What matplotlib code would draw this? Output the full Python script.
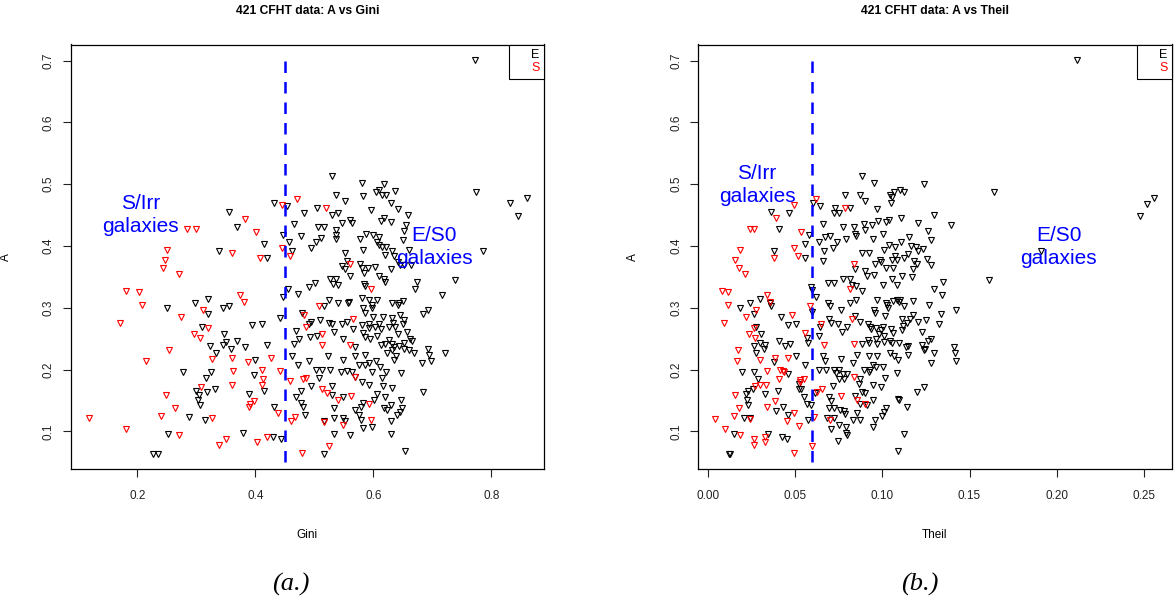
import matplotlib
matplotlib.use("Agg")
import matplotlib.pyplot as plt
from matplotlib.lines import Line2D
from matplotlib.ticker import FormatStrFormatter

plt.rcParams['font.family'] = ['Liberation Sans', 'DejaVu Sans']

# ---- panel (a): A vs Gini ----
gini_e = [0.355, 0.369, 0.339, 0.250, 0.298, 0.320, 0.319, 0.345, 0.355, 0.395, 0.309, 0.347, 0.323, 0.345,
          0.350, 0.358, 0.369, 0.383, 0.334, 0.400, 0.278, 0.324, 0.317, 0.397, 0.299, 0.305, 0.318, 0.331,
          0.302, 0.306, 0.389, 0.287, 0.314, 0.252, 0.379, 0.226, 0.235,
          0.530, 0.580, 0.618, 0.432, 0.453, 0.537, 0.552, 0.582, 0.604, 0.609, 0.614, 0.622, 0.505, 0.483,
          0.530, 0.540, 0.596, 0.466, 0.506, 0.516, 0.546, 0.561, 0.563, 0.613, 0.537, 0.537, 0.536, 0.446,
          0.457, 0.477, 0.503, 0.511, 0.494, 0.462, 0.420, 0.415, 0.577, 0.587, 0.599, 0.609, 0.606, 0.609,
          0.614, 0.622, 0.582, 0.552, 0.555, 0.547, 0.552, 0.560, 0.577, 0.581, 0.591, 0.603, 0.584, 0.610,
          0.618, 0.620, 0.634, 0.527, 0.537, 0.531, 0.540, 0.501, 0.490, 0.456, 0.472, 0.447, 0.584, 0.586,
          0.620, 0.525, 0.540, 0.557, 0.559, 0.517, 0.581, 0.592, 0.606, 0.582, 0.585, 0.597, 0.598, 0.479,
          0.441, 0.411, 0.510, 0.491, 0.495, 0.468, 0.524, 0.529, 0.534, 0.547, 0.555, 0.565, 0.581, 0.582,
          0.592, 0.600, 0.617, 0.593, 0.602, 0.610, 0.613, 0.627, 0.633, 0.504, 0.492, 0.474, 0.465, 0.420,
          0.549, 0.569, 0.585, 0.595, 0.606, 0.613, 0.620, 0.626, 0.623, 0.632, 0.585, 0.568, 0.548, 0.523,
          0.490, 0.462, 0.472, 0.415, 0.503, 0.512, 0.507, 0.527, 0.545, 0.556, 0.564, 0.569, 0.575, 0.585,
          0.593, 0.597, 0.604, 0.611, 0.614, 0.621, 0.581, 0.592, 0.494, 0.477, 0.529, 0.529, 0.548, 0.582,
          0.579, 0.601, 0.606, 0.616, 0.620, 0.618, 0.623, 0.630, 0.469, 0.478, 0.481, 0.484, 0.431, 0.516,
          0.533, 0.534, 0.549, 0.551, 0.568, 0.576, 0.579, 0.582, 0.598, 0.560, 0.533, 0.517, 0.444, 0.429,
          0.637, 0.774, 0.630, 0.641, 0.658, 0.630, 0.656, 0.651, 0.650, 0.660, 0.631, 0.832, 0.860, 0.845,
          0.785, 0.642, 0.645, 0.652, 0.664, 0.630, 0.674, 0.670, 0.739, 0.716, 0.631, 0.641, 0.643, 0.650,
          0.684, 0.693, 0.631, 0.645, 0.651, 0.650, 0.637, 0.641, 0.657, 0.651, 0.662, 0.665, 0.631, 0.635,
          0.643, 0.652, 0.661, 0.669, 0.639, 0.635, 0.693, 0.694, 0.698, 0.683, 0.721, 0.646, 0.631, 0.684,
          0.647, 0.648, 0.645, 0.640, 0.630, 0.630, 0.653, 0.772, 0.618]
a_gini_e = [0.455, 0.430, 0.391, 0.299, 0.308, 0.314, 0.290, 0.299, 0.302, 0.272, 0.269, 0.257, 0.238, 0.239,
            0.244, 0.234, 0.246, 0.237, 0.226, 0.215, 0.196, 0.196, 0.186, 0.191, 0.165, 0.159, 0.164, 0.168,
            0.150, 0.143, 0.161, 0.123, 0.119, 0.096, 0.097, 0.064, 0.064,
            0.513, 0.502, 0.500, 0.469, 0.465, 0.483, 0.473, 0.481, 0.487, 0.490, 0.483, 0.483, 0.462, 0.454,
            0.450, 0.454, 0.458, 0.435, 0.430, 0.430, 0.437, 0.442, 0.437, 0.440, 0.425, 0.418, 0.412, 0.417,
            0.406, 0.416, 0.407, 0.413, 0.397, 0.392, 0.381, 0.403, 0.412, 0.420, 0.418, 0.415, 0.407, 0.401,
            0.398, 0.398, 0.393, 0.389, 0.376, 0.367, 0.363, 0.352, 0.371, 0.364, 0.364, 0.366, 0.356, 0.352,
            0.347, 0.385, 0.384, 0.346, 0.346, 0.339, 0.337, 0.340, 0.333, 0.331, 0.322, 0.318, 0.339, 0.335,
            0.341, 0.312, 0.308, 0.308, 0.310, 0.303, 0.315, 0.312, 0.312, 0.299, 0.292, 0.304, 0.300, 0.291,
            0.284, 0.273, 0.280, 0.273, 0.277, 0.263, 0.276, 0.273, 0.260, 0.273, 0.277, 0.266, 0.272, 0.259,
            0.268, 0.285, 0.285, 0.274, 0.269, 0.273, 0.266, 0.269, 0.275, 0.254, 0.252, 0.249, 0.242, 0.240,
            0.250, 0.237, 0.253, 0.250, 0.255, 0.240, 0.242, 0.247, 0.227, 0.231, 0.223, 0.222, 0.216, 0.222,
            0.214, 0.222, 0.208, 0.165, 0.200, 0.200, 0.187, 0.200, 0.196, 0.197, 0.196, 0.188, 0.208, 0.207,
            0.210, 0.196, 0.213, 0.204, 0.187, 0.196, 0.180, 0.175, 0.173, 0.166, 0.173, 0.158, 0.155, 0.146,
            0.139, 0.150, 0.160, 0.173, 0.156, 0.138, 0.134, 0.142, 0.155, 0.146, 0.139, 0.126, 0.140, 0.117,
            0.122, 0.138, 0.122, 0.117, 0.134, 0.126, 0.118, 0.106, 0.107, 0.094, 0.096, 0.064, 0.087, 0.091,
            0.489, 0.487, 0.469, 0.459, 0.450, 0.438, 0.434, 0.424, 0.410, 0.394, 0.391, 0.469, 0.478, 0.448,
            0.392, 0.374, 0.369, 0.369, 0.369, 0.362, 0.342, 0.331, 0.345, 0.321, 0.308, 0.304, 0.308, 0.311,
            0.290, 0.297, 0.283, 0.288, 0.280, 0.274, 0.269, 0.257, 0.260, 0.243, 0.250, 0.246, 0.242, 0.236,
            0.238, 0.234, 0.231, 0.227, 0.222, 0.215, 0.234, 0.224, 0.214, 0.210, 0.226, 0.195, 0.170, 0.164,
            0.151, 0.137, 0.131, 0.126, 0.117, 0.096, 0.068, 0.701, 0.446]
gini_s = [0.382, 0.401, 0.284, 0.299, 0.251, 0.360, 0.246, 0.243, 0.270, 0.408, 0.180, 0.203, 0.207, 0.374,
          0.380, 0.311, 0.274, 0.171, 0.319, 0.296, 0.306, 0.254, 0.327, 0.360, 0.388, 0.214, 0.362, 0.307,
          0.361, 0.249, 0.398, 0.391, 0.389, 0.263, 0.118, 0.240, 0.326, 0.180, 0.270, 0.351, 0.339, 0.403,
          0.471, 0.445, 0.519, 0.445, 0.459, 0.560, 0.596, 0.508, 0.483, 0.486, 0.565, 0.513, 0.512, 0.560,
          0.427, 0.411, 0.441, 0.413, 0.411, 0.458, 0.481, 0.485, 0.568, 0.513, 0.521, 0.540, 0.562, 0.592,
          0.439, 0.467, 0.460, 0.517, 0.549, 0.596, 0.524, 0.479, 0.419]
a_gini_s = [0.444, 0.422, 0.428, 0.427, 0.393, 0.389, 0.377, 0.365, 0.354, 0.380, 0.327, 0.325, 0.305, 0.321,
            0.309, 0.296, 0.285, 0.276, 0.267, 0.257, 0.251, 0.232, 0.217, 0.218, 0.212, 0.213, 0.197, 0.172,
            0.175, 0.159, 0.149, 0.144, 0.139, 0.137, 0.122, 0.124, 0.121, 0.104, 0.094, 0.087, 0.078, 0.082,
            0.476, 0.466, 0.461, 0.396, 0.384, 0.370, 0.331, 0.302, 0.288, 0.269, 0.281, 0.258, 0.239, 0.240,
            0.219, 0.200, 0.197, 0.184, 0.175, 0.182, 0.184, 0.187, 0.188, 0.169, 0.162, 0.150, 0.157, 0.144,
            0.129, 0.123, 0.117, 0.115, 0.110, 0.119, 0.077, 0.065, 0.091]

# ---- panel (b): A vs Theil ----
theil_e = [0.0363, 0.0464, 0.0410, 0.0382, 0.0302, 0.0241, 0.0355, 0.0363, 0.0183, 0.0263, 0.0422, 0.0460,
           0.0504, 0.0275, 0.0307, 0.0410, 0.0473, 0.0445, 0.0267, 0.0298, 0.0330, 0.0321, 0.0279, 0.0506,
           0.0380, 0.0197, 0.0263, 0.0458, 0.0286, 0.0260, 0.0229, 0.0221, 0.0225, 0.0229, 0.0330, 0.0401,
           0.0525, 0.0525, 0.0431, 0.0393, 0.0460, 0.0206, 0.0244, 0.0153, 0.0346, 0.0428, 0.0454, 0.0120,
           0.0130,
           0.0884, 0.0955, 0.0788, 0.0871, 0.0903, 0.1046, 0.1065, 0.1056, 0.1100, 0.0601, 0.0641, 0.0731,
           0.0725, 0.0750, 0.0817, 0.0970, 0.1050, 0.0661, 0.0775, 0.0836, 0.0846, 0.0852, 0.0894, 0.0903,
           0.0941, 0.0974, 0.1004, 0.1023, 0.1037, 0.0578, 0.0674, 0.0702, 0.0740, 0.0794, 0.0638, 0.0555,
           0.0718, 0.0668, 0.0884, 0.0922, 0.0947, 0.1012, 0.1037, 0.1071, 0.0555, 0.0661, 0.0846, 0.0903,
           0.0960, 0.0985, 0.0993, 0.1056, 0.1075, 0.1084, 0.1023, 0.1062, 0.0955, 0.1004, 0.1056, 0.0913,
           0.0687, 0.0725, 0.0775, 0.0817, 0.0827, 0.0851, 0.0884, 0.1084, 0.0592, 0.0598, 0.0622, 0.0598,
           0.0687, 0.0699, 0.0763, 0.0817, 0.0852, 0.0970, 0.1023, 0.1027, 0.1031, 0.1062, 0.1084, 0.1103,
           0.0955, 0.0960, 0.1018, 0.0842, 0.0693, 0.0708, 0.0744, 0.0645, 0.0798, 0.0769, 0.0871, 0.0917,
           0.0928, 0.0936, 0.0966, 0.0980, 0.0993, 0.1004, 0.1012, 0.1050, 0.1060, 0.0569, 0.0575, 0.0636,
           0.0884, 0.0917, 0.0922, 0.0966, 0.0970, 0.1012, 0.1043, 0.1056, 0.1094, 0.0855, 0.0922, 0.0970,
           0.1043, 0.1066, 0.0661, 0.0674, 0.0559, 0.0765, 0.0833, 0.0636, 0.0680, 0.0725, 0.0737, 0.0750,
           0.0775, 0.0798, 0.0779, 0.0750, 0.0871, 0.0897, 0.0922, 0.0932, 0.0947, 0.0966, 0.1002, 0.1018,
           0.0947, 0.0995, 0.0865, 0.0718, 0.0535, 0.0613, 0.0693, 0.0706, 0.0846, 0.0884, 0.0903, 0.0871,
           0.0947, 0.1094, 0.0554, 0.0569, 0.0592, 0.0693, 0.0721, 0.0760, 0.0779, 0.0788, 0.0856, 0.0913,
           0.1023, 0.1012, 0.0998, 0.0575, 0.0683, 0.0721, 0.0832, 0.0874, 0.0957, 0.0947, 0.0754, 0.0706,
           0.0794, 0.0794, 0.0798, 0.0745, 0.1090,
           0.2113, 0.1638, 0.1239, 0.2558, 0.2518, 0.2476, 0.1907, 0.1613, 0.1126, 0.1107, 0.1296, 0.1207,
           0.1394, 0.1262, 0.1279, 0.1153, 0.1105, 0.1165, 0.1192, 0.1207, 0.1235, 0.1126, 0.1149, 0.1255,
           0.1279, 0.1182, 0.1199, 0.1178, 0.1111, 0.1172, 0.1346, 0.1298, 0.1340, 0.1098, 0.1126, 0.1178,
           0.1270, 0.1423, 0.1336, 0.1327, 0.1115, 0.1140, 0.1159, 0.1178, 0.1207, 0.1249, 0.1117, 0.1115,
           0.1230, 0.1260, 0.1279, 0.1136, 0.1149, 0.1230, 0.1245, 0.1241, 0.1146, 0.1298, 0.1411, 0.1417,
           0.1423, 0.1092, 0.1279, 0.1083, 0.1201, 0.1239, 0.1092, 0.1144, 0.1127]
a_theil_e = [0.455, 0.453, 0.428, 0.391, 0.314, 0.308, 0.308, 0.302, 0.300, 0.290, 0.285, 0.272,
             0.273, 0.269, 0.257, 0.246, 0.241, 0.238, 0.238, 0.243, 0.239, 0.233, 0.226, 0.222,
             0.212, 0.196, 0.196, 0.192, 0.185, 0.168, 0.166, 0.160, 0.150, 0.142, 0.161, 0.165,
             0.177, 0.168, 0.140, 0.133, 0.126, 0.122, 0.121, 0.096, 0.096, 0.091, 0.088, 0.064,
             0.064,
             0.513, 0.502, 0.482, 0.482, 0.473, 0.482, 0.488, 0.480, 0.491, 0.469, 0.465, 0.461,
             0.453, 0.454, 0.461, 0.459, 0.469, 0.435, 0.430, 0.430, 0.419, 0.416, 0.435, 0.426,
             0.434, 0.441, 0.420, 0.439, 0.442, 0.418, 0.414, 0.416, 0.407, 0.412, 0.407, 0.403,
             0.396, 0.392, 0.389, 0.389, 0.412, 0.393, 0.401, 0.398, 0.381, 0.376, 0.363, 0.359,
             0.371, 0.377, 0.374, 0.378, 0.383, 0.377, 0.365, 0.364, 0.353, 0.337, 0.347, 0.351,
             0.340, 0.340, 0.346, 0.346, 0.337, 0.335, 0.327, 0.337, 0.333, 0.329, 0.318, 0.293,
             0.308, 0.303, 0.297, 0.308, 0.312, 0.313, 0.308, 0.304, 0.300, 0.311, 0.313, 0.313,
             0.297, 0.292, 0.286, 0.287, 0.281, 0.276, 0.274, 0.269, 0.269, 0.261, 0.277, 0.273,
             0.269, 0.265, 0.268, 0.257, 0.264, 0.269, 0.254, 0.266, 0.259, 0.251, 0.243, 0.255,
             0.242, 0.247, 0.243, 0.250, 0.242, 0.245, 0.246, 0.243, 0.243, 0.223, 0.222, 0.222,
             0.226, 0.222, 0.222, 0.214, 0.207, 0.217, 0.210, 0.200, 0.200, 0.199, 0.195, 0.199,
             0.192, 0.193, 0.185, 0.185, 0.185, 0.199, 0.196, 0.199, 0.207, 0.204, 0.204, 0.187,
             0.175, 0.172, 0.176, 0.173, 0.168, 0.162, 0.156, 0.149, 0.157, 0.163, 0.162, 0.145,
             0.150, 0.151, 0.156, 0.145, 0.142, 0.138, 0.138, 0.135, 0.133, 0.128, 0.130, 0.142,
             0.137, 0.131, 0.124, 0.119, 0.121, 0.121, 0.118, 0.118, 0.118, 0.107, 0.111, 0.104,
             0.107, 0.097, 0.094, 0.084, 0.068,
             0.701, 0.487, 0.500, 0.478, 0.468, 0.448, 0.392, 0.345, 0.487, 0.446, 0.450, 0.437,
             0.434, 0.424, 0.410, 0.414, 0.406, 0.400, 0.399, 0.391, 0.395, 0.380, 0.387, 0.379,
             0.369, 0.376, 0.371, 0.363, 0.352, 0.349, 0.342, 0.331, 0.321, 0.310, 0.303, 0.311,
             0.305, 0.297, 0.290, 0.274, 0.281, 0.276, 0.282, 0.288, 0.277, 0.280, 0.270, 0.264,
             0.261, 0.246, 0.250, 0.236, 0.238, 0.239, 0.234, 0.231, 0.223, 0.226, 0.236, 0.226,
             0.214, 0.215, 0.210, 0.195, 0.164, 0.171, 0.152, 0.139, 0.096]
theil_s = [0.0493, 0.0391, 0.0244, 0.0267, 0.0535, 0.0183, 0.0155, 0.0382, 0.0493, 0.0515, 0.0181, 0.0216,
           0.0082, 0.0116, 0.0340, 0.0116, 0.0359, 0.0279, 0.0221, 0.0483, 0.0095, 0.0263, 0.0239, 0.0273,
           0.0174, 0.0460, 0.0168, 0.0302, 0.0384, 0.0340, 0.0416, 0.0430, 0.0439, 0.0410, 0.0531, 0.0273,
           0.0298, 0.0336, 0.0158, 0.0388, 0.0342, 0.0181, 0.0496, 0.0454, 0.0149, 0.0241, 0.0044, 0.0101,
           0.0187, 0.0330, 0.0326, 0.0267, 0.0263, 0.0521, 0.0493,
           0.0622, 0.0788, 0.0840, 0.0813, 0.0584, 0.0827, 0.0649, 0.0559, 0.0664, 0.0836, 0.0840, 0.0550,
           0.0531, 0.0626, 0.0655, 0.0766, 0.0856, 0.0899, 0.0607, 0.0699, 0.0598]
a_theil_s = [0.466, 0.445, 0.428, 0.427, 0.423, 0.393, 0.377, 0.380, 0.396, 0.384, 0.364, 0.354,
             0.327, 0.325, 0.321, 0.305, 0.309, 0.296, 0.285, 0.288, 0.276, 0.267, 0.257, 0.251,
             0.231, 0.219, 0.213, 0.216, 0.218, 0.197, 0.200, 0.197, 0.196, 0.184, 0.183, 0.173,
             0.175, 0.175, 0.158, 0.149, 0.139, 0.137, 0.129, 0.117, 0.124, 0.120, 0.120, 0.104,
             0.094, 0.091, 0.083, 0.087, 0.078, 0.108, 0.065,
             0.476, 0.461, 0.370, 0.331, 0.303, 0.281, 0.274, 0.259, 0.240, 0.242, 0.188, 0.185,
             0.180, 0.164, 0.168, 0.157, 0.151, 0.145, 0.123, 0.119, 0.077]

W, H = 1176, 604
fig = plt.figure(figsize=(W / 100, H / 100), dpi=100)
ax1 = fig.add_axes([70.7 / W, 1 - 469 / H, 473.3 / W, 424.5 / H])
ax2 = fig.add_axes([698 / W, 1 - 469 / H, 474 / W, 424.5 / H])


def panel(ax, xe, ye, xs, ys, cut, xlim, xticks, fmt, xlabel, title, pos1, pos2):
    ax.plot(xe, ye, 'v', ms=4, mfc='none', mec='black', mew=0.8, ls='none')
    ax.plot(xs, ys, 'v', ms=4, mfc='none', mec='red', mew=0.8, ls='none')
    ax.plot([cut, cut], [0.05, 0.7], color='blue', lw=1.8, ls=(0, (4.6, 3.6)))
    ax.text(pos1[0], pos1[1], 'S/Irr\ngalaxies', color='blue', fontsize=15,
            ha='center', va='center', linespacing=1.25)
    ax.text(pos2[0], pos2[1], 'E/S0\ngalaxies', color='blue', fontsize=15,
            ha='center', va='center', linespacing=1.25)
    ax.set_xlim(*xlim)
    ax.set_ylim(0.039, 0.726)
    ax.set_xticks(xticks)
    ax.set_yticks([0.1, 0.2, 0.3, 0.4, 0.5, 0.6, 0.7])
    ax.xaxis.set_major_formatter(FormatStrFormatter(fmt))
    ax.tick_params(direction='out', length=5.5, width=0.8, labelsize=8.5, colors='#222222')
    ax.tick_params(axis='x', pad=9.5)
    ax.tick_params(axis='y', labelrotation=90, pad=6)
    for t in ax.get_yticklabels():
        t.set_va('center')
    for s in ax.spines.values():
        s.set_linewidth(0.9)
    ax.set_xlabel(xlabel, fontsize=8.5)
    ax.xaxis.set_label_coords(0.5, -0.141)
    ax.set_ylabel('A', fontsize=8.5)
    ax.yaxis.set_label_coords(-0.124, 0.5)
    ax.set_title(title, fontsize=8.7, fontweight='bold', pad=22)
    h = [Line2D([], [], ls='none'), Line2D([], [], ls='none')]
    leg = ax.legend(h, ['E', 'S'], loc='upper right', labelcolor=['black', 'red'],
                    fancybox=False, edgecolor='black', framealpha=1, borderaxespad=0,
                    handlelength=1.2, handletextpad=0.2, labelspacing=0.1, borderpad=0.35,
                    fontsize=9)
    leg.get_frame().set_linewidth(0.8)


panel(ax1, gini_e, a_gini_e, gini_s, a_gini_s, 0.45, (0.087, 0.889), [0.2, 0.4, 0.6, 0.8], '%.1f',
      'Gini', '421 CFHT data: A vs Gini', (0.206, 0.45), (0.703, 0.398))
panel(ax2, theil_e, a_theil_e, theil_s, a_theil_s, 0.06, (-0.0056, 0.2660),
      [0.0, 0.05, 0.10, 0.15, 0.20, 0.25], '%.2f',
      'Theil', '421 CFHT data: A vs Theil', (0.0282, 0.499), (0.201, 0.398))

fig.text(291 / W, 1 - 584 / H, '(a.)', fontsize=19, family='Liberation Serif', style='italic',
         ha='center', va='center')
fig.text(920 / W, 1 - 584 / H, '(b.)', fontsize=19, family='Liberation Serif', style='italic',
         ha='center', va='center')

fig.savefig('out.png', dpi=100)
